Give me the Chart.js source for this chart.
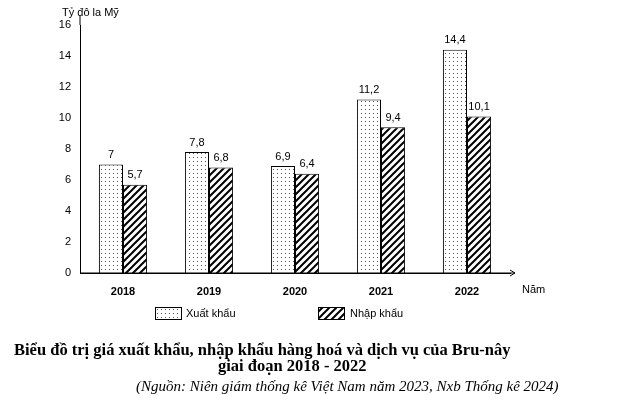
<!DOCTYPE html>
<html><head><meta charset="utf-8">
<script src="https://cdn.jsdelivr.net/npm/chart.js@4"></script>
<style>body{margin:0;background:#fff}#wrap{width:640px;height:402px;position:relative}</style>
</head><body>
<div id="wrap"><canvas id="c"></canvas></div>
<script>
var years = ['2018', '2019', '2020', '2021', '2022'];
var exportVals = [7, 7.8, 6.9, 11.2, 14.4];
var importVals = [5.7, 6.8, 6.4, 9.4, 10.1];
var yTicks = [0, 2, 4, 6, 8, 10, 12, 14, 16];

function dotPattern() {
    var p = document.createElement('canvas');
    p.width = 4; p.height = 4;
    var g = p.getContext('2d');
    g.fillStyle = '#fff'; g.fillRect(0, 0, 4, 4);
    g.fillStyle = '#555'; g.fillRect(1, 1, 1, 1);
    return g.createPattern(p, 'repeat');
}
function hatchPattern() {
    var p = document.createElement('canvas');
    p.width = 7; p.height = 7;
    var g = p.getContext('2d');
    g.fillStyle = '#fff'; g.fillRect(0, 0, 7, 7);
    g.strokeStyle = '#000'; g.lineWidth = 2;
    g.beginPath();
    g.moveTo(-1, 8); g.lineTo(8, -1);
    g.moveTo(-4, 4); g.lineTo(4, -4);
    g.moveTo(3, 11); g.lineTo(11, 3);
    g.stroke();
    return g.createPattern(p, 'repeat');
}
var dots = dotPattern(), hatch = hatchPattern();

var extras = {
    id: 'extras',
    afterDraw: function (chart) {
        var ctx = chart.ctx;
        var meta0 = chart.getDatasetMeta(0), meta1 = chart.getDatasetMeta(1);
        ctx.save();
        ctx.fillStyle = '#000';
        ctx.font = '11px Arial, "Liberation Sans"';
        ctx.textAlign = 'center';
        ctx.textBaseline = 'bottom';
        meta0.data.forEach(function (b, i) { ctx.fillText(String(exportVals[i]).replace('.', ','), b.x, b.y - 4); });
        meta1.data.forEach(function (b, i) { ctx.fillText(String(importVals[i]).replace('.', ','), b.x, b.y - 4); });
        // axis labels
        ctx.textAlign = 'left';
        ctx.fillText('Tỷ đô la Mỹ', 62, 18);
        ctx.fillText('Năm', 522, 295);
        // axis arrows
        ctx.strokeStyle = '#000'; ctx.lineWidth = 1;
        var x0 = chart.chartArea.left, yb = chart.chartArea.bottom, yt = chart.chartArea.top;
        ctx.beginPath();
        ctx.moveTo(x0, yt); ctx.lineTo(x0, yt - 10);
        ctx.moveTo(x0, yb); ctx.lineTo(515, yb);
        ctx.moveTo(510, yb - 3); ctx.lineTo(515, yb); ctx.lineTo(510, yb + 3);
        ctx.stroke();
        // legend
        ctx.fillStyle = dots; ctx.fillRect(155, 307, 26, 12); ctx.strokeRect(155.5, 307.5, 26, 12);
        ctx.fillStyle = hatch; ctx.fillRect(318, 307, 26, 12); ctx.strokeRect(318.5, 307.5, 26, 12);
        ctx.fillStyle = '#000'; ctx.textBaseline = 'middle';
        ctx.fillText('Xuất khẩu', 186, 314);
        ctx.fillText('Nhập khẩu', 350, 314);
        // title
        ctx.font = 'bold 16.5px "Liberation Serif", "Times New Roman", serif';
        ctx.fillText('Biểu đồ trị giá xuất khẩu, nhập khẩu hàng hoá và dịch vụ của Bru-nây', 14, 351);
        ctx.fillText('giai đoạn 2018 - 2022', 218, 367);
        ctx.font = 'italic 15px "Liberation Serif", "Times New Roman", serif';
        ctx.fillText('(Nguồn: Niên giám thống kê Việt Nam năm 2023, Nxb Thống kê 2024)', 136, 387);
        ctx.restore();
    }
};

new Chart(document.getElementById('c'), {
    type: 'bar',
    data: {
        labels: years,
        datasets: [
            { label: 'Xuất khẩu', data: exportVals, backgroundColor: dots, borderColor: '#000', borderWidth: 1 },
            { label: 'Nhập khẩu', data: importVals, backgroundColor: hatch, borderColor: '#000', borderWidth: 1 }
        ]
    },
    options: {
        responsive: true,
        maintainAspectRatio: false,
        animation: false,
        layout: { padding: { left: 0, right: 130, top: 25, bottom: 0 } },
        categoryPercentage: 0.56,
        barPercentage: 1.0,
        plugins: { legend: { display: false }, tooltip: { enabled: false } },
        scales: {
            x: {
                grid: { display: false, drawTicks: false },
                border: { color: '#000' },
                ticks: { color: '#000', font: { size: 11, family: 'Arial, "Liberation Sans"', weight: 'bold' }, padding: 12 },
                afterFit: function (s) { s.height = 129; }
            },
            y: {
                min: 0, max: 16,
                afterBuildTicks: function (s) { s.ticks = yTicks.map(function (v) { return { value: v }; }); },
                grid: { display: false, drawTicks: true, tickLength: 5, tickColor: '#000' },
                border: { color: '#000' },
                ticks: { color: '#000', font: { size: 11, family: 'Arial, "Liberation Sans"' }, padding: 4 },
                afterFit: function (s) { s.width = 80; }
            }
        }
    },
    plugins: [extras]
});
</script>
</body></html>
